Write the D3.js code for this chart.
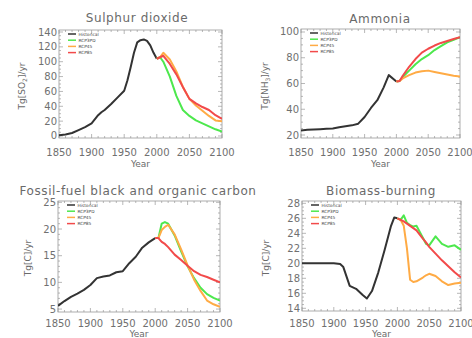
<!DOCTYPE html>
<html>
<head>
<meta charset="utf-8">
<script src="https://cdn.jsdelivr.net/npm/d3@7"></script>
<style>
  body { margin: 0; background: #fff; }
  svg { display: block; font-family: "DejaVu Sans", sans-serif; }
  .tick-label { font-size: 10px; fill: #707070; }
  .title { font-size: 12px; fill: #6a6a6a; letter-spacing: 0.6px; }
  .axis-title { font-size: 9px; fill: #6a6a6a; }
  .legend text { font-size: 4.3px; fill: #444; }
</style>
</head>
<body>
<svg width="472" height="338"></svg>
<script>
// ---- data ----
const seriesNames = ["Historical", "RCP3PD", "RCP45", "RCP85"];
const seriesColors = ["#333333", "#4de84d", "#ffab45", "#f24a4a"];
const xTickYears = [1850, 1900, 1950, 2000, 2050, 2100];

// Sulphur dioxide
const so2HistYears = [1850, 1860, 1870, 1880, 1890, 1900, 1910, 1915, 1920, 1930, 1940, 1950, 1955, 1960, 1965, 1970, 1975, 1980, 1985, 1990, 1995, 2000];
const so2Hist = [1, 2, 4, 8, 12, 17, 28, 32, 35, 43, 52, 61, 75, 93, 112, 126, 129, 130, 128, 122, 112, 104];
const so2RcpYears = [2005, 2010, 2020, 2030, 2040, 2050, 2060, 2070, 2080, 2090, 2100];
const so2Rcp3pd = [106, 100, 80, 54, 35, 27, 21, 17, 13, 9, 6];
const so2Rcp45 = [106, 112, 103, 87, 66, 50, 41, 34, 27, 21, 20];
const so2Rcp85 = [106, 108, 97, 83, 66, 50, 44, 39, 35, 28, 23];
const so2YTicks = [0, 20, 40, 60, 80, 100, 120, 140];

// Ammonia
const nh3HistYears = [1850, 1860, 1870, 1880, 1890, 1900, 1910, 1920, 1930, 1940, 1950, 1960, 1970, 1980, 1988, 2000];
const nh3Hist = [23.5, 24, 24.3, 24.5, 24.8, 25, 26, 26.8, 27.5, 28.8, 34, 41, 47, 57, 66.5, 61.5];
const nh3RcpYears = [2005, 2010, 2020, 2030, 2040, 2050, 2060, 2070, 2080, 2090, 2100];
const nh3Rcp3pd = [62, 65, 70, 75, 79, 82, 86, 89, 92, 94, 96];
const nh3Rcp45 = [62, 64, 66.5, 68.5, 69.5, 70, 69, 68, 67, 66, 65.5];
const nh3Rcp85 = [62, 66, 73, 79, 84, 87, 89.5, 91.5, 93, 94.5, 96];
const nh3YTicks = [20, 40, 60, 80, 100];

// Fossil-fuel black and organic carbon
const ffHistYears = [1850, 1860, 1870, 1880, 1890, 1900, 1910, 1920, 1930, 1940, 1950, 1960, 1970, 1980, 1990, 2000];
const ffHist = [5.6, 6.5, 7.3, 7.9, 8.6, 9.5, 10.8, 11.1, 11.3, 11.9, 12.1, 13.6, 14.8, 16.5, 17.5, 18.3];
const ffRcpYears = [2005, 2010, 2015, 2020, 2030, 2040, 2050, 2060, 2070, 2080, 2090, 2100];
const ffRcp3pd = [18.3, 21.0, 21.3, 21.0, 18.8, 15.8, 13.0, 10.8, 9.0, 7.8, 7.1, 6.6];
const ffRcp45 = [18.3, 19.8, 20.4, 20.8, 19.0, 16.2, 13.2, 10.5, 8.4, 6.6, 5.9, 5.4];
const ffRcp85 = [18.3, 17.6, 17.2, 16.6, 15.2, 14.2, 13.1, 12.1, 11.4, 11.0, 10.5, 10.0];
const ffYTicks = [5, 10, 15, 20, 25];

// Biomass-burning
const bbHistYears = [1850, 1900, 1910, 1915, 1925, 1935, 1945, 1952, 1960, 1970, 1980, 1990, 1995, 2000];
const bbHist = [20, 20, 19.9, 19.5, 17.0, 16.6, 15.8, 15.3, 16.3, 18.8, 21.8, 25.0, 26.1, 26.0];
const bbRcpYears = [2005, 2010, 2015, 2020, 2025, 2030, 2040, 2045, 2050, 2060, 2070, 2080, 2090, 2100];
const bbRcp3pd = [25.8, 26.4, 25.4, 25.1, 24.9, 25.0, 23.4, 22.6, 22.4, 23.6, 22.6, 22.2, 22.4, 21.8];
const bbRcp45 = [25.8, 25.0, 22.0, 17.8, 17.5, 17.6, 18.1, 18.4, 18.6, 18.3, 17.6, 17.1, 17.3, 17.4];
const bbRcp85 = [25.8, 25.6, 25.3, 25.0, 24.7, 24.4, 23.3, 22.8, 22.2, 21.3, 20.4, 19.6, 18.8, 18.1];
const bbYTicks = [14, 16, 18, 20, 22, 24, 26, 28];

// ---- panel layout ----
const panels = [
  {
    title: "Sulphur dioxide", ylab: ["Tg[SO", "2", "]/yr"],
    box: { x0: 59, x1: 222, y0: 30, y1: 138 }, yDomain: [-2.7, 142.7], yTicks: so2YTicks, yMinor: 5,
    titleX: 137, titleY: 22, ylabX: 25, ylabY: 86, xlabY: 156, yearY: 167,
    hist: [so2HistYears, so2Hist], rcpYears: so2RcpYears, rcps: [so2Rcp3pd, so2Rcp45, so2Rcp85]
  },
  {
    title: "Ammonia", ylab: ["Tg[NH", "3", "]/yr"],
    box: { x0: 301, x1: 460, y0: 29, y1: 138 }, yDomain: [17.67, 102.33], yTicks: nh3YTicks, yMinor: 5,
    titleX: 380, titleY: 23, ylabX: 268, ylabY: 86, xlabY: 156, yearY: 167,
    hist: [nh3HistYears, nh3Hist], rcpYears: nh3RcpYears, rcps: [nh3Rcp3pd, nh3Rcp45, nh3Rcp85]
  },
  {
    title: "Fossil-fuel black and organic carbon", ylab: ["Tg[C]/yr"],
    box: { x0: 58, x1: 220, y0: 201, y1: 312 }, yDomain: [4.45, 25.25], yTicks: ffYTicks, yMinor: 1,
    titleX: 138, titleY: 195, ylabX: 31, ylabY: 258, xlabY: 327, yearY: 337,
    hist: [ffHistYears, ffHist], rcpYears: ffRcpYears, rcps: [ffRcp3pd, ffRcp45, ffRcp85]
  },
  {
    title: "Biomass-burning", ylab: ["Tg[C]/yr"],
    box: { x0: 302, x1: 461, y0: 201, y1: 311 }, yDomain: [13.64, 28.31], yTicks: bbYTicks, yMinor: 0.5,
    titleX: 381, titleY: 195, ylabX: 269, ylabY: 258, xlabY: 327, yearY: 337,
    hist: [bbHistYears, bbHist], rcpYears: bbRcpYears, rcps: [bbRcp3pd, bbRcp45, bbRcp85]
  }
];

const svg = d3.select("svg");

panels.forEach(p => {
  const g = svg.append("g");
  const x = d3.scaleLinear().domain([1850, 2100]).range([p.box.x0, p.box.x1]);
  const y = d3.scaleLinear().domain(p.yDomain).range([p.box.y1, p.box.y0]);

  // box
  g.append("rect")
    .attr("x", p.box.x0).attr("y", p.box.y0)
    .attr("width", p.box.x1 - p.box.x0).attr("height", p.box.y1 - p.box.y0)
    .attr("fill", "none").attr("stroke", "#999").attr("stroke-width", 0.8);

  // ticks pointing inward on all four sides (IDL style)
  const xMinor = d3.range(1850, 2101, 10);
  const yMinor = d3.range(p.yTicks[0], p.yTicks[p.yTicks.length - 1] + 1e-9, p.yMinor);
  const tickG = g.append("g").attr("stroke", "#999").attr("stroke-width", 0.7);
  xMinor.forEach(v => {
    const len = xTickYears.includes(v) ? 4 : 2;
    tickG.append("line").attr("x1", x(v)).attr("x2", x(v)).attr("y1", p.box.y1).attr("y2", p.box.y1 - len);
    tickG.append("line").attr("x1", x(v)).attr("x2", x(v)).attr("y1", p.box.y0).attr("y2", p.box.y0 + len);
  });
  yMinor.forEach(v => {
    const len = p.yTicks.some(t => Math.abs(t - v) < 1e-6) ? 4 : 2;
    tickG.append("line").attr("y1", y(v)).attr("y2", y(v)).attr("x1", p.box.x0).attr("x2", p.box.x0 + len);
    tickG.append("line").attr("y1", y(v)).attr("y2", y(v)).attr("x1", p.box.x1).attr("x2", p.box.x1 - len);
  });

  // tick labels
  g.selectAll(".xl").data(xTickYears).join("text")
    .attr("class", "tick-label")
    .attr("x", d => x(d)).attr("y", p.xlabY)
    .attr("text-anchor", "middle")
    .text(d => d);
  g.selectAll(".yl").data(p.yTicks).join("text")
    .attr("class", "tick-label")
    .attr("x", p.box.x0 - 2).attr("y", d => y(d)).attr("dy", "0.35em")
    .attr("text-anchor", "end")
    .text(d => d);

  // titles
  g.append("text").attr("class", "title")
    .attr("x", p.titleX).attr("y", p.titleY).attr("text-anchor", "middle").text(p.title);
  g.append("text").attr("class", "axis-title")
    .attr("x", (p.box.x0 + p.box.x1) / 2).attr("y", p.yearY).attr("text-anchor", "middle").text("Year");

  const yl = g.append("text").attr("class", "axis-title")
    .attr("transform", `translate(${p.ylabX},${p.ylabY}) rotate(-90)`)
    .attr("text-anchor", "middle");
  if (p.ylab.length === 3) {
    yl.append("tspan").text(p.ylab[0]);
    yl.append("tspan").attr("dy", 2).attr("font-size", "6px").text(p.ylab[1]);
    yl.append("tspan").attr("dy", -2).text(p.ylab[2]);
  } else {
    yl.text(p.ylab[0]);
  }

  // lines
  const line = d3.line().x(d => x(d[0])).y(d => y(d[1]));
  const clip = "clip" + p.box.x0 + p.box.y0;
  g.append("clipPath").attr("id", clip).append("rect")
    .attr("x", p.box.x0).attr("y", p.box.y0)
    .attr("width", p.box.x1 - p.box.x0).attr("height", p.box.y1 - p.box.y0);
  const lg = g.append("g").attr("clip-path", `url(#${clip})`)
    .attr("fill", "none").attr("stroke-width", 2).attr("stroke-linejoin", "round");

  const histPts = p.hist[0].map((yr, i) => [yr, p.hist[1][i]]);
  lg.append("path").attr("d", line(histPts)).attr("stroke", seriesColors[0]);
  p.rcps.forEach((vals, k) => {
    // RCPs start from the last historical point
    const pts = [histPts[histPts.length - 1]].concat(p.rcpYears.map((yr, i) => [yr, vals[i]]));
    lg.append("path").attr("d", line(pts)).attr("stroke", seriesColors[k + 1]);
  });

  // legend
  const leg = g.append("g").attr("class", "legend");
  seriesNames.forEach((name, i) => {
    const ly = p.box.y0 + 4 + i * 6.2;
    leg.append("line")
      .attr("x1", p.box.x0 + 9).attr("x2", p.box.x0 + 17)
      .attr("y1", ly).attr("y2", ly)
      .attr("stroke", seriesColors[i]).attr("stroke-width", 1.5);
    leg.append("text").attr("x", p.box.x0 + 19.5).attr("y", ly).attr("dy", "0.35em").text(name);
  });
});
</script>
</body>
</html>
